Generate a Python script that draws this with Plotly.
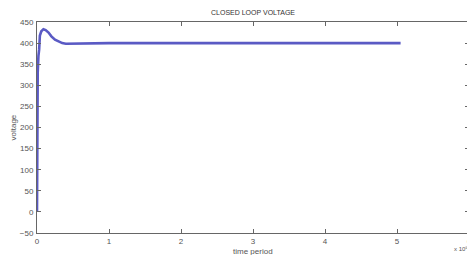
import plotly.graph_objects as go

# time (axis shown x10^5) and voltage
time_vals = [0, 500, 1000, 2000, 3000, 4000, 6000, 9000, 12000, 16000, 20000,
             25000, 30000, 35000, 40000, 50000, 100000, 200000, 300000, 400000, 505000]
voltage = [0, 250, 330, 370, 385, 418, 428, 433, 431, 425, 416,
           408, 403, 400, 398.5, 399, 400, 400, 400, 400, 400]

x_ticks = [0, 100000, 200000, 300000, 400000, 500000, 600000]
x_tick_text = ["0", "1", "2", "3", "4", "5", "6"]
y_ticks = [-50, 0, 50, 100, 150, 200, 250, 300, 350, 400, 450]

FAM = "Liberation Sans, Arial, sans-serif"
font = dict(family=FAM, size=8, color="#555")

fig = go.Figure()
fig.add_trace(go.Scatter(x=time_vals, y=voltage, mode="lines",
                         line=dict(color="#5a5ac4", width=2.6), showlegend=False))

axis_common = dict(showline=True, linecolor="#666", linewidth=1, mirror="ticks",
                   ticks="inside", ticklen=4, tickcolor="#666", showgrid=False,
                   zeroline=False, tickfont=font, automargin=False)

# page body has an 8px margin, so the figure is sized to fill the rest of the window
fig.update_layout(
    width=467, height=247,
    margin=dict(l=29, r=6, t=14, b=22),
    paper_bgcolor="white", plot_bgcolor="white",
    xaxis=dict(range=[0, 600000], tickvals=x_ticks, ticktext=x_tick_text, ticklabelstandoff=0,
               **axis_common),
    yaxis=dict(range=[-50, 450], tickvals=y_ticks, ticklabelstandoff=1, **axis_common),
)
fig.add_annotation(text="CLOSED LOOP VOLTAGE", xref="paper", yref="paper", x=0.5, y=1.0,
                   yshift=4, xanchor="center", yanchor="bottom", showarrow=False,
                   font=dict(family=FAM, size=7, color="#333"))
fig.add_annotation(text="time period", xref="paper", yref="paper", x=0.5, y=0, yshift=-12,
                   xanchor="center", yanchor="top", showarrow=False, font=font)
fig.add_annotation(text="voltage", xref="paper", yref="paper", x=0, xshift=-24, y=0.5,
                   xanchor="center", yanchor="middle", textangle=-90, showarrow=False, font=font)
fig.add_annotation(text="x 10⁵", xref="paper", yref="paper", x=1.0, y=0, yshift=-11,
                   xshift=1, xanchor="right", yanchor="top", showarrow=False,
                   font=dict(family=FAM, size=6, color="#555"))

fig.write_html("out.html")
